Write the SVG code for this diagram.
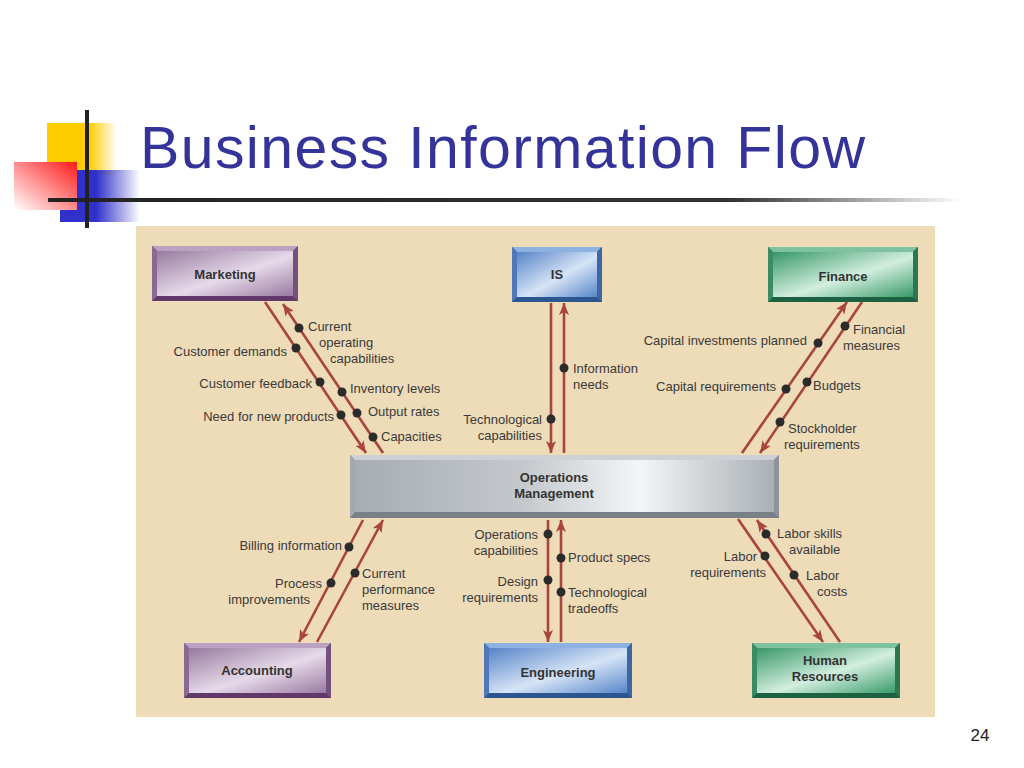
<svg xmlns="http://www.w3.org/2000/svg" width="1024" height="768" viewBox="0 0 1024 768">
<defs>
<style>
.title{font-family:"Liberation Sans",Arial,sans-serif;font-size:59px;fill:#333399}
.nt{font-family:"Liberation Sans",Arial,sans-serif;font-size:13px;font-weight:bold;fill:#333;text-anchor:middle}
.lb{font-family:"Liberation Sans",Arial,sans-serif;font-size:13px;fill:#3a3a3a}
.r{text-anchor:end}
.conn line{stroke:#a8453e;stroke-width:2.6;marker-end:url(#ah)}
.dot{fill:#2b2b2b}
.pur .t{fill:#bca2c2}.pur .b{fill:#62386a}.pur .l{fill:#8c6894}.pur .rt{fill:#74507c}.pur .f{fill:url(#gPur)}
.blu .t{fill:#8cb2e2}.blu .b{fill:#2c568f}.blu .l{fill:#5078b8}.blu .rt{fill:#3d66a4}.blu .f{fill:url(#gBlu)}
.grn .t{fill:#7ec2a2}.grn .b{fill:#1c6242}.grn .l{fill:#3a8c64}.grn .rt{fill:#2c7652}.grn .f{fill:url(#gGrn)}
.gry .t{fill:#cdd1d5}.gry .b{fill:#7a8087}.gry .l{fill:#a3a9ae}.gry .rt{fill:#8c9298}.gry .f{fill:url(#gGry)}
</style>
<marker id="ah" viewBox="0 0 12 10" refX="12" refY="5" markerWidth="12" markerHeight="10" markerUnits="userSpaceOnUse" orient="auto">
<path d="M0,0 L12,5 L0,10 L3,5 z" fill="#a8453e"/>
</marker>
<linearGradient id="gPur" x1="0" y1="0" x2="1" y2="1">
<stop offset="0" stop-color="#977aa0"/><stop offset="0.55" stop-color="#e6dae9"/><stop offset="1" stop-color="#9a7aa2"/>
</linearGradient>
<linearGradient id="gBlu" x1="0" y1="0" x2="1" y2="1">
<stop offset="0" stop-color="#5684c8"/><stop offset="0.55" stop-color="#d6e4f6"/><stop offset="1" stop-color="#5886ca"/>
</linearGradient>
<linearGradient id="gGrn" x1="0" y1="0" x2="1" y2="1">
<stop offset="0" stop-color="#389868"/><stop offset="0.55" stop-color="#d2eedf"/><stop offset="1" stop-color="#3a9a6a"/>
</linearGradient>
<linearGradient id="gGry" x1="0" y1="0" x2="1" y2="0">
<stop offset="0" stop-color="#a7adb3"/><stop offset="0.4" stop-color="#c4c8cc"/><stop offset="0.68" stop-color="#f4f5f6"/><stop offset="1" stop-color="#aab0b5"/>
</linearGradient>
<linearGradient id="gYel" x1="0" y1="0" x2="1" y2="0">
<stop offset="0" stop-color="#ffcc00"/><stop offset="0.6" stop-color="#ffcc00"/><stop offset="1" stop-color="#ffcc00" stop-opacity="0"/>
</linearGradient>
<linearGradient id="gRed" x1="1" y1="0" x2="0" y2="1">
<stop offset="0" stop-color="#ff1a1a"/><stop offset="1" stop-color="#ff1a1a" stop-opacity="0"/>
</linearGradient>
<linearGradient id="gBlue" x1="0" y1="0" x2="1" y2="0">
<stop offset="0" stop-color="#3030cc"/><stop offset="0.45" stop-color="#3030cc"/><stop offset="1" stop-color="#3030cc" stop-opacity="0"/>
</linearGradient>
<linearGradient id="gLine" x1="0" y1="0" x2="1" y2="0">
<stop offset="0" stop-color="#222"/><stop offset="0.75" stop-color="#333"/><stop offset="1" stop-color="#333" stop-opacity="0"/>
</linearGradient>
</defs>
<rect width="1024" height="768" fill="#ffffff"/>

<g id="logo">
<rect x="47" y="123" width="70" height="52" fill="url(#gYel)"/>
<rect x="60" y="170" width="80" height="52" fill="url(#gBlue)"/>
<rect x="14" y="162" width="63" height="48" fill="#ffffff"/>
<rect x="14" y="162" width="63" height="48" fill="url(#gRed)"/>
<rect x="48" y="198" width="914" height="4" fill="url(#gLine)"/>
<rect x="85" y="110" width="4" height="118" fill="#222"/>
</g>
<text class="title" x="140" y="168" textLength="725">Business Information Flow</text>

<rect id="panel" x="136" y="226" width="799" height="491" fill="#eedbb8"/>

<g id="connectors" class="conn">
<line x1="265" y1="302" x2="366" y2="453"/>
<line x1="383" y1="453" x2="283" y2="304"/>
<line x1="551" y1="303" x2="551" y2="453"/>
<line x1="564" y1="453" x2="564" y2="303"/>
<line x1="742" y1="453" x2="847" y2="302"/>
<line x1="862" y1="302" x2="760" y2="453"/>
<line x1="363" y1="520" x2="299" y2="642"/>
<line x1="317" y1="642" x2="383" y2="520"/>
<line x1="548" y1="520" x2="548" y2="642"/>
<line x1="561" y1="642" x2="561" y2="520"/>
<line x1="738" y1="519" x2="823" y2="642"/>
<line x1="840" y1="642" x2="757" y2="520"/>
</g>

<g id="marketing" class="pur">
<rect class="b" x="152" y="246" width="146" height="55"/>
<polygon class="t" points="152,246 298,246 293,251 157,251"/>
<polygon class="l" points="152,246 157,251 157,296 152,301"/>
<polygon class="rt" points="298,246 293,251 293,296 298,301"/>
<rect class="f" x="157" y="251" width="136" height="45"/>
<text class="nt" x="225" y="279">Marketing</text>
</g>

<g id="is" class="blu">
<rect class="b" x="512" y="247" width="90" height="55"/>
<polygon class="t" points="512,247 602,247 597,252 517,252"/>
<polygon class="l" points="512,247 517,252 517,297 512,302"/>
<polygon class="rt" points="602,247 597,252 597,297 602,302"/>
<rect class="f" x="517" y="252" width="80" height="45"/>
<text class="nt" x="557" y="279">IS</text>
</g>

<g id="finance" class="grn">
<rect class="b" x="768" y="247" width="150" height="55"/>
<polygon class="t" points="768,247 918,247 913,252 773,252"/>
<polygon class="l" points="768,247 773,252 773,297 768,302"/>
<polygon class="rt" points="918,247 913,252 913,297 918,302"/>
<rect class="f" x="773" y="252" width="140" height="45"/>
<text class="nt" x="843" y="281">Finance</text>
</g>

<g id="operations" class="gry">
<rect class="b" x="350" y="455" width="429" height="63"/>
<polygon class="t" points="350,455 779,455 774,460 355,460"/>
<polygon class="l" points="350,455 355,460 355,512 350,518"/>
<polygon class="rt" points="779,455 774,460 774,512 779,518"/>
<rect class="f" x="355" y="460" width="419" height="52"/>
<text class="nt" x="554" y="482">Operations</text>
<text class="nt" x="554" y="498">Management</text>
</g>

<g id="accounting" class="pur">
<rect class="b" x="184" y="643" width="147" height="55"/>
<polygon class="t" points="184,643 331,643 326,648 189,648"/>
<polygon class="l" points="184,643 189,648 189,693 184,698"/>
<polygon class="rt" points="331,643 326,648 326,693 331,698"/>
<rect class="f" x="189" y="648" width="137" height="45"/>
<text class="nt" x="257" y="675">Accounting</text>
</g>

<g id="engineering" class="blu">
<rect class="b" x="484" y="643" width="148" height="55"/>
<polygon class="t" points="484,643 632,643 627,648 489,648"/>
<polygon class="l" points="484,643 489,648 489,693 484,698"/>
<polygon class="rt" points="632,643 627,648 627,693 632,698"/>
<rect class="f" x="489" y="648" width="138" height="45"/>
<text class="nt" x="558" y="677">Engineering</text>
</g>

<g id="human-resources" class="grn">
<rect class="b" x="752" y="643" width="148" height="55"/>
<polygon class="t" points="752,643 900,643 895,648 757,648"/>
<polygon class="l" points="752,643 757,648 757,693 752,698"/>
<polygon class="rt" points="900,643 895,648 895,693 900,698"/>
<rect class="f" x="757" y="648" width="138" height="45"/>
<text class="nt" x="825" y="665">Human</text>
<text class="nt" x="825" y="681">Resources</text>
</g>

<g id="labels">
<g class="dot">
<circle cx="299" cy="328" r="4.5"/><circle cx="296" cy="348" r="4.5"/><circle cx="320" cy="382" r="4.5"/>
<circle cx="342" cy="392" r="4.5"/><circle cx="341" cy="415" r="4.5"/><circle cx="357" cy="413" r="4.5"/>
<circle cx="373" cy="437" r="4.5"/>
<circle cx="564" cy="368" r="4.5"/><circle cx="551" cy="419" r="4.5"/>
<circle cx="845" cy="326" r="4.5"/><circle cx="818" cy="343" r="4.5"/><circle cx="807" cy="382" r="4.5"/>
<circle cx="786" cy="389" r="4.5"/><circle cx="780" cy="422" r="4.5"/>
<circle cx="349" cy="547" r="4.5"/><circle cx="331" cy="583" r="4.5"/><circle cx="355" cy="573" r="4.5"/>
<circle cx="548" cy="534" r="4.5"/><circle cx="548" cy="580" r="4.5"/><circle cx="561" cy="558" r="4.5"/><circle cx="561" cy="592" r="4.5"/>
<circle cx="766" cy="534" r="4.5"/><circle cx="765" cy="556" r="4.5"/><circle cx="794" cy="575" r="4.5"/>
</g>
<text class="lb" x="308" y="331">Current</text>
<text class="lb" x="319" y="347">operating</text>
<text class="lb" x="330" y="363">capabilities</text>
<text class="lb r" x="287" y="356">Customer demands</text>
<text class="lb r" x="312" y="388">Customer feedback</text>
<text class="lb" x="350" y="393">Inventory levels</text>
<text class="lb r" x="334" y="421">Need for new products</text>
<text class="lb" x="368" y="416">Output rates</text>
<text class="lb" x="381" y="441">Capacities</text>

<text class="lb" x="573" y="373">Information</text>
<text class="lb" x="573" y="389">needs</text>
<text class="lb r" x="542" y="424">Technological</text>
<text class="lb r" x="542" y="440">capabilities</text>

<text class="lb r" x="807" y="345">Capital investments planned</text>
<text class="lb" x="853" y="334">Financial</text>
<text class="lb" x="843" y="350">measures</text>
<text class="lb r" x="776" y="391">Capital requirements</text>
<text class="lb" x="813" y="390">Budgets</text>
<text class="lb" x="788" y="433">Stockholder</text>
<text class="lb" x="784" y="449">requirements</text>

<text class="lb r" x="342" y="550">Billing information</text>
<text class="lb r" x="322" y="588">Process</text>
<text class="lb r" x="310" y="604">improvements</text>
<text class="lb" x="362" y="578">Current</text>
<text class="lb" x="362" y="594">performance</text>
<text class="lb" x="362" y="610">measures</text>

<text class="lb r" x="538" y="539">Operations</text>
<text class="lb r" x="538" y="555">capabilities</text>
<text class="lb r" x="538" y="586">Design</text>
<text class="lb r" x="538" y="602">requirements</text>
<text class="lb" x="568" y="562">Product specs</text>
<text class="lb" x="568" y="597">Technological</text>
<text class="lb" x="568" y="613">tradeoffs</text>

<text class="lb" x="777" y="538">Labor skills</text>
<text class="lb" x="789" y="554">available</text>
<text class="lb r" x="757" y="561">Labor</text>
<text class="lb r" x="766" y="577">requirements</text>
<text class="lb" x="806" y="580">Labor</text>
<text class="lb" x="817" y="596">costs</text>
</g>

<text x="980" y="741" style="font-family:'Liberation Sans',Arial,sans-serif;font-size:17px;fill:#222;text-anchor:middle">24</text>
</svg>
